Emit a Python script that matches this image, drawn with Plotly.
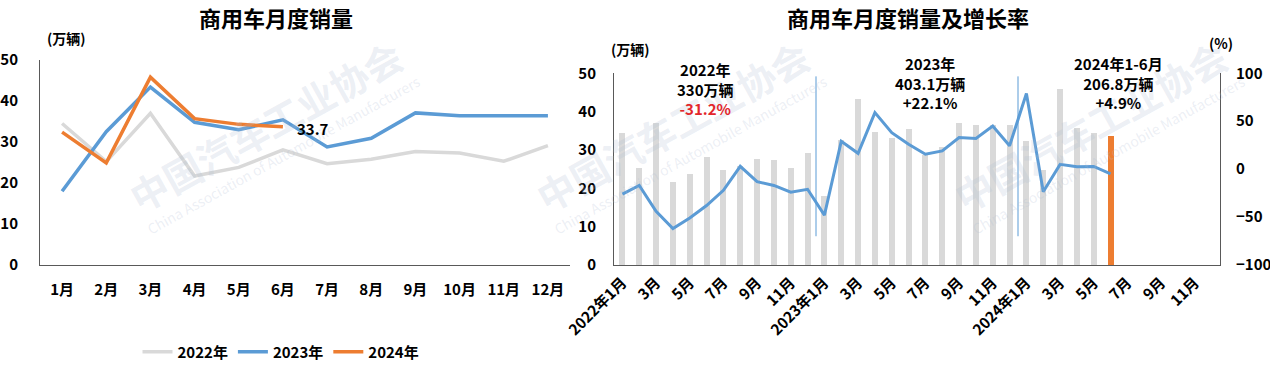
import plotly.graph_objects as go

# ---------------- data ----------------
month_labels = ["1月", "2月", "3月", "4月", "5月", "6月", "7月", "8月", "9月", "10月", "11月", "12月"]
years = ["2022", "2023", "2024"]

sales_2022 = [34.5, 25.2, 37.0, 21.7, 23.8, 28.1, 24.7, 25.8, 27.7, 27.3, 25.3, 29.1]
sales_2023 = [18.0, 32.5, 43.4, 34.8, 33.0, 35.4, 28.8, 30.9, 37.1, 36.4, 36.4, 36.4]
sales_2024 = [32.4, 24.9, 45.8, 35.7, 34.3, 33.7]

growth_2022 = [-26, -17, -44, -62, -51, -38, -22, 3, -13, -17, -24, -21]
growth_2023 = [-48, 29, 16.5, 59, 38, 26, 15.5, 19, 33, 32, 45, 24.5]
growth_2024 = [79, -23.5, 5, 2.5, 2.8, -5]

right_tick_text = ["2022年1月", "3月", "5月", "7月", "9月", "11月",
                   "2023年1月", "3月", "5月", "7月", "9月", "11月",
                   "2024年1月", "3月", "5月", "7月", "9月", "11月"]

summary_2022 = ["2022年", "330万辆", "-31.2%"]
summary_2023 = ["2023年", "403.1万辆", "+22.1%"]
summary_2024 = ["2024年1-6月", "206.8万辆", "+4.9%"]

# ---------------- styles ----------------
FONT = "Noto Sans CJK SC"
GRAY = "#D9D9D9"
BLUE = "#5B9BD5"
ORANGE = "#ED7D31"
AXIS = "#595959"
W, H = 1270, 370

def px_x(p):
    return p / W

def px_y(p):
    return (H - p) / H

right_cats = [f"{y}年{m}" for y in years for m in month_labels]
bar_vals = sales_2022 + sales_2023 + sales_2024
growth_vals = growth_2022 + growth_2023 + growth_2024
bar_colors = [GRAY] * (len(bar_vals) - 1) + [ORANGE]
right_tick_vals = right_cats[::2]

fig = go.Figure()

# left chart lines
for name, vals, col in [("2022年", sales_2022, GRAY), ("2023年", sales_2023, BLUE), ("2024年", sales_2024, ORANGE)]:
    fig.add_trace(go.Scatter(x=month_labels[:len(vals)], y=vals, mode="lines", name=name,
                             line=dict(color=col, width=3.5), xaxis="x", yaxis="y",
                             hoverinfo="skip"))

# right chart bars + growth line
fig.add_trace(go.Bar(x=right_cats[:len(bar_vals)], y=bar_vals, marker=dict(color=bar_colors, line_width=0),
                     width=0.36, xaxis="x2", yaxis="y3", showlegend=False, hoverinfo="skip"))
fig.add_trace(go.Scatter(x=right_cats[:len(growth_vals)], y=growth_vals, mode="lines",
                         line=dict(color=BLUE, width=3), xaxis="x2", yaxis="y4",
                         showlegend=False, hoverinfo="skip"))

tickf = dict(family=FONT, size=15, color="#000000", weight="bold")

fig.update_layout(
    width=W, height=H,
    margin=dict(l=0, r=0, t=0, b=0, autoexpand=False),
    paper_bgcolor="white", plot_bgcolor="rgba(0,0,0,0)",
    font=dict(family=FONT, color="#000000"),
    bargap=0,
    xaxis=dict(domain=[px_x(40), px_x(570)], anchor="y", type="category",
               categoryorder="array", categoryarray=month_labels,
               range=[-0.5, 11.5], showline=True, linecolor=AXIS, linewidth=1,
               showgrid=False, zeroline=False, ticks="", tickfont=tickf,
               ticklabelstandoff=11, automargin=False),
    yaxis=dict(domain=[px_y(265), px_y(60)], anchor="x", range=[0, 50], dtick=10,
               showline=True, linecolor=AXIS, linewidth=1, showgrid=False, zeroline=False,
               ticks="", tickfont=tickf, ticklabelstandoff=18, automargin=False),
    xaxis2=dict(domain=[px_x(614), px_x(1220)], anchor="y3", type="category",
                categoryorder="array", categoryarray=right_cats,
                range=[-0.5, 35.5], showline=True, linecolor=AXIS, linewidth=1,
                showgrid=False, zeroline=False, ticks="", tickfont=tickf,
                tickmode="array", tickvals=right_tick_vals, ticktext=right_tick_text,
                tickangle=-45, ticklabelstandoff=2, automargin=False),
    yaxis3=dict(domain=[px_y(265), px_y(73.3)], anchor="x2", range=[0, 50], dtick=10,
                showline=True, linecolor=AXIS, linewidth=1, showgrid=False, zeroline=False,
                ticks="", tickfont=tickf, ticklabelstandoff=14, automargin=False),
    yaxis4=dict(overlaying="y3", anchor="x2", side="right", range=[-100, 100], dtick=50,
                showline=True, linecolor=AXIS, linewidth=1, showgrid=False, zeroline=False,
                ticks="", tickfont=tickf, ticklabelstandoff=12, automargin=False),
    legend=dict(orientation="h", x=px_x(281), xanchor="center", y=px_y(352), yanchor="middle",
                font=dict(family=FONT, size=15, color="#000000", weight="bold"),
                itemwidth=30, tracegroupgap=0, bgcolor="rgba(0,0,0,0)"),
    showlegend=True,
)

# dividers between years
for xv in [11.5, 23.5]:
    fig.add_shape(type="line", xref="x2", yref="y3", x0=xv, x1=xv, y0=7.5, y1=49.2,
                  line=dict(color=BLUE, width=1))

ann = []

def add_text(text, x, y, font, **kw):
    d = dict(text=text, x=px_x(x), y=px_y(y), xref="paper", yref="paper",
             xanchor="center", yanchor="middle", showarrow=False, font=font)
    d.update(kw)
    ann.append(d)

# watermarks
wm_col = "rgba(175,190,212,0.24)"
for cx, cy in [(265, 125), (672, 125), (1090, 125)]:
    add_text("中国汽车工业协会", cx, cy, dict(family=FONT, size=38, color=wm_col, weight="bold"), textangle=-29)
    add_text("China Association of Automobile Manufacturers", cx + 18, cy + 30,
             dict(family=FONT, size=14, color=wm_col), textangle=-29)

# titles
titlef = dict(family=FONT, size=22, color="#000000", weight="bold")
add_text("商用车月度销量", 276, 17, titlef)
add_text("商用车月度销量及增长率", 908, 17, titlef)
# unit labels
unitf = dict(family=FONT, size=14, color="#000000", weight="bold")
add_text("(万辆)", 66, 38, unitf)
add_text("(万辆)", 630, 49, unitf)
add_text("(%)", 1221, 43, unitf)

# last value label on left chart
ann.append(dict(text=f"{sales_2024[-1]}", x=month_labels[len(sales_2024) - 1], y=sales_2024[-1],
                xref="x", yref="y", xanchor="left", yanchor="middle", xshift=12, yshift=-2, showarrow=False,
                font=dict(family=FONT, size=15, color="#000000", weight="bold")))

# summary blocks
sumf = dict(family=FONT, size=15, color="#000000", weight="bold")
for (cx, cy), lines, red in [((705, 89), summary_2022, True), ((930, 83), summary_2023, False),
                             ((1118, 83), summary_2024, False)]:
    third = f"<span style='color:#E3262B'>{lines[2]}</span>" if red else lines[2]
    add_text(f"{lines[0]}<br>{lines[1]}<br>{third}", cx, cy, sumf, align="center")

fig.update_layout(annotations=ann)

fig.write_html("out.html", config={"displayModeBar": False, "staticPlot": True},
               post_script="document.body.style.margin='0px';document.body.style.overflow='hidden';")
